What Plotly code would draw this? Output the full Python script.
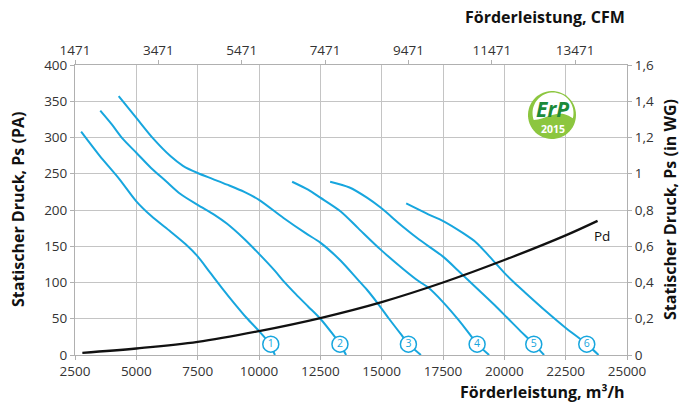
"""Fan performance curves (static pressure vs. air flow) with ErP badge."""

import numpy as np
import plotly.graph_objects as go

# Air flow (m3/h) and static pressure (Pa), one list per fan curve
Q1 = [2750, 3500, 4300, 5000, 5600, 6400, 7000, 7500, 8000, 8500, 9000, 9500, 10000, 10400, 10650]
P1 = [308, 275, 243, 212, 192, 170, 153, 136, 114, 92, 71, 51, 33, 17, 0]

Q2 = [3530, 4000, 4450, 5000, 5600, 6200, 6800, 7500, 8200, 8700, 9400, 10100, 10650, 11000,
      11500, 12000, 12500, 13000, 13300, 13550]
P2 = [337, 318, 298, 279, 258, 240, 222, 207, 193, 181, 160, 136, 116, 102,
      84, 67, 50, 29, 15, 0]

Q3 = [4280, 5000, 5700, 6400, 6900, 7500, 8100, 8700, 9400, 10000, 11000, 11900, 12500, 13300,
      14000, 14400, 14800, 15300, 15800, 16100, 16600]
P3 = [357, 327, 298, 274, 261, 251, 243, 235, 225, 214, 189, 168, 155, 131,
      105, 90, 73, 50, 28, 15, 0]

Q4 = [11350, 12000, 12500, 13330, 14040, 14970, 15900, 16500, 16900, 17500, 18140, 18600, 18900, 19380]
P4 = [239, 228, 217, 198, 175, 145, 118, 102, 93, 73, 48, 28, 15, 0]

Q5 = [12900, 13690, 14400, 14970, 15830, 16540, 17490, 18100, 18500, 19040, 19600, 20100, 20600,
      21200, 21620]
P5 = [239, 231, 217, 203, 178, 159, 136, 117, 104, 87, 69, 52, 35, 15, 0]

Q6 = [16000, 16900, 17490, 18320, 18860, 19390, 20010, 20400, 20820, 21710, 22480, 23360, 23840]
P6 = [209, 194, 185, 168, 155, 136, 113, 100, 87, 60, 38, 15, 0]

# Dynamic pressure curve
Q_PD = [2800, 5000, 7500, 10000, 12500, 15000, 17500, 20000, 22500, 23800]
P_PD = [3, 9, 18, 33, 51, 73, 100, 131, 165, 185]

# Curve number markers
LABEL_NAMES = ["1", "2", "3", "4", "5", "6"]
LABEL_Q = [10480, 13300, 16090, 18890, 21200, 23360]
LABEL_P = [15, 15, 15, 15, 15, 15]

# Axis ticks
X_TICKS = [2500, 5000, 7500, 10000, 12500, 15000, 17500, 20000, 22500, 25000]
CFM_TICKS = [1471, 3471, 5471, 7471, 9471, 11471, 13471]
Y_TICKS = [0, 50, 100, 150, 200, 250, 300, 350, 400]
WG_TICKS = [0, 0.2, 0.4, 0.6, 0.8, 1.0, 1.2, 1.4, 1.6]
WG_LABELS = ["0", "0,2", "0,4", "0,6", "0,8", "1", "1,2", "1,4", "1,6"]

BLUE = "#17a6de"
GRID = "#c4c4c4"
AXIS = "#b0b0b0"
TICK_FONT = dict(family="Open Sans", size=13.5, color="#333333")
TITLE_FONT = dict(family="Open Sans", size=16, color="#111111")

# plot area in pixels (for placing the badge)
L, R, T, B = 75, 627, 65, 355


def px2x(px):
    return 2500 + (px - L) / (R - L) * 22500


def py2y(py):
    return (B - py) / (B - T) * 400


def main():
    fig = go.Figure()

    for q, p in [(Q1, P1), (Q2, P2), (Q3, P3), (Q4, P4), (Q5, P5), (Q6, P6)]:
        fig.add_trace(go.Scatter(
            x=q, y=p, mode="lines",
            line=dict(color=BLUE, width=2, shape="spline", smoothing=0.8),
            hoverinfo="skip", showlegend=False,
        ))

    fig.add_trace(go.Scatter(
        x=Q_PD, y=P_PD, mode="lines",
        line=dict(color="#111111", width=2.3, shape="spline"),
        hoverinfo="skip", showlegend=False,
    ))

    fig.add_trace(go.Scatter(
        x=LABEL_Q, y=LABEL_P, mode="markers+text",
        text=LABEL_NAMES, textposition="middle center",
        textfont=dict(family="Open Sans", size=10.5, color=BLUE),
        marker=dict(size=16, color="white", line=dict(color=BLUE, width=1.5)),
        hoverinfo="skip", showlegend=False,
    ))

    # invisible trace so the secondary axes get drawn
    fig.add_trace(go.Scatter(
        x=[CFM_TICKS[0]], y=[0], xaxis="x2", yaxis="y2", mode="markers",
        marker=dict(opacity=0), hoverinfo="skip", showlegend=False,
    ))

    # ErP 2015 badge
    cx, cy, r = 552, 115, 24
    t = np.linspace(0, 2 * np.pi, 60)
    outer = [(cx + r * np.cos(a), cy + r * np.sin(a)) for a in t]
    tw = np.linspace(np.radians(200), np.radians(-15), 40)
    white = [(cx + 1 + 20.5 * np.cos(a), cy - 2 - 20.5 * np.sin(a)) for a in tw]
    # swoosh back from right to left
    sw = np.linspace(0, 1, 20)
    x0, y0 = white[-1]
    x1, y1 = white[0]
    white += [(x0 + (x1 - x0) * s, y0 + (y1 - y0) * s - 9 * np.sin(np.pi * s) * (1 - s)) for s in sw]

    def to_path(pts):
        return "M " + " L ".join(f"{px2x(a):.1f},{py2y(b):.2f}" for a, b in pts) + " Z"

    shapes = [
        dict(type="path", path=to_path(outer), xref="x", yref="y",
             fillcolor="#8cc63f", line=dict(width=0), layer="above"),
        dict(type="path", path=to_path(white), xref="x", yref="y",
             fillcolor="white", line=dict(width=0), layer="above"),
    ]

    annotations = [
        dict(text="<b><i>ErP</i></b>", x=px2x(cx), y=py2y(cy - 6), xref="x", yref="y",
             showarrow=False, font=dict(family="Open Sans", size=21, color="#1b8a3a")),
        dict(text="<b>2015</b>", x=px2x(cx + 1), y=py2y(cy + 14), xref="x", yref="y",
             showarrow=False, font=dict(family="Open Sans", size=10.5, color="white")),
        dict(text="Pd", x=24000, y=164, xref="x", yref="y", showarrow=False,
             font=dict(family="Open Sans", size=13.5, color="#111111")),
        dict(text="<b>Förderleistung, CFM</b>", x=1.0, y=(B - 17) / (B - T),
             xref="paper", yref="paper", xanchor="right", yanchor="middle",
             showarrow=False, font=TITLE_FONT),
        dict(text="<b>Förderleistung, m³/h</b>", x=1.0, y=(B - 392) / (B - T),
             xref="paper", yref="paper", xanchor="right", yanchor="middle",
             showarrow=False, font=TITLE_FONT),
        dict(text="<b>Statischer Druck, Ps (PA)</b>", x=(18 - L) / (R - L), y=0.5,
             xref="paper", yref="paper", xanchor="center", yanchor="middle",
             textangle=-90, showarrow=False, font=TITLE_FONT),
        dict(text="<b>Statischer Druck, Ps (in WG)</b>", x=(670 - L) / (R - L), y=0.5,
             xref="paper", yref="paper", xanchor="center", yanchor="middle",
             textangle=-90, showarrow=False, font=TITLE_FONT),
    ]

    axis_common = dict(
        showline=True, linecolor=AXIS, linewidth=1, ticks="outside", ticklen=4,
        tickcolor=AXIS, zeroline=False, tickfont=TICK_FONT, fixedrange=True,
    )

    fig.update_layout(
        width=685, height=406,
        margin=dict(l=L, r=685 - R, t=T, b=406 - B),
        paper_bgcolor="white", plot_bgcolor="white",
        showlegend=False,
        xaxis=dict(range=[2500, 25000], tickvals=X_TICKS, ticktext=[str(v) for v in X_TICKS],
                   showgrid=True, gridcolor=GRID, gridwidth=1.3, **axis_common),
        yaxis=dict(range=[0, 400], tickvals=Y_TICKS, ticktext=[str(v) for v in Y_TICKS],
                   showgrid=True, gridcolor=GRID, gridwidth=1.3, **axis_common),
        xaxis2=dict(range=[1471, 25000 / 1.699], tickvals=CFM_TICKS,
                    ticktext=[str(v) for v in CFM_TICKS], overlaying="x", side="top",
                    anchor="y", showgrid=False, **axis_common),
        yaxis2=dict(range=[0, 1.6], tickvals=WG_TICKS, ticktext=WG_LABELS,
                    overlaying="y", side="right", anchor="x", showgrid=False, **axis_common),
        shapes=shapes,
        annotations=annotations,
    )

    # page has a default body margin; drop it so the chart sits at the window's corner
    fig.write_html("out.html", config={"displayModeBar": False},
                   post_script="document.body.style.margin='0';")


if __name__ == "__main__":
    main()
